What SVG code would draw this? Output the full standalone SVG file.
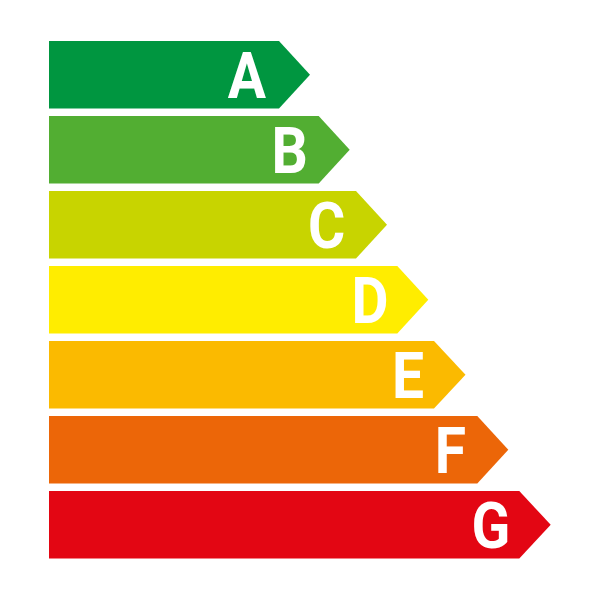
<svg xmlns="http://www.w3.org/2000/svg" width="600" height="601" viewBox="0 0 600 601">
<style>
.lbl{font-family:Roboto,"Liberation Sans",sans-serif;font-weight:700;font-size:64px;fill:#ffffff;text-anchor:middle}
</style>
<rect width="600" height="601" fill="#ffffff"/>
<g id="A"><path d="M49,41 H279 L310,74.8 L279,108.5 H49 Z" fill="#009640"/><text class="lbl" transform="translate(247,97.7) scale(0.89,1)">A</text></g>
<g id="B"><path d="M49,116 H318.7 L349.7,149.8 L318.7,183.5 H49 Z" fill="#52AE32"/><text class="lbl" transform="translate(289.7,172.7) scale(0.89,1)">B</text></g>
<g id="C"><path d="M49,191 H356 L387,224.8 L356,258.5 H49 Z" fill="#C8D400"/><text class="lbl" transform="translate(326.7,247.7) scale(0.89,1)">C</text></g>
<g id="D"><path d="M49,266 H397.3 L428.3,299.8 L397.3,333.5 H49 Z" fill="#FFED00"/><text class="lbl" transform="translate(370,322.7) scale(0.89,1)">D</text></g>
<g id="E"><path d="M49,341 H434 L465.5,374.8 L434,408.5 H49 Z" fill="#FBBA00"/><text class="lbl" transform="translate(408,397.7) scale(0.89,1)">E</text></g>
<g id="F"><path d="M49,416 H477.3 L508.3,449.8 L477.3,483.5 H49 Z" fill="#EC6608"/><text class="lbl" transform="translate(450.3,472.7) scale(0.89,1)">F</text></g>
<g id="G"><path d="M49,491 H519.3 L550.7,524.8 L519.3,558.5 H49 Z" fill="#E30613"/><text class="lbl" transform="translate(490.8,547.7) scale(0.89,1)">G</text></g>
<g id="connectors"/>
</svg>
